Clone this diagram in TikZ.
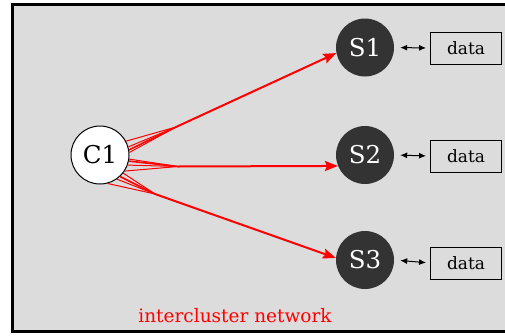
\documentclass[tikz,border=0pt]{standalone}
\usepackage{fontspec}
\setmainfont{DejaVu Serif}
\usetikzlibrary{arrows.meta}
\definecolor{panel}{gray}{0.863}
\definecolor{srv}{HTML}{333333}
\begin{document}
\begin{tikzpicture}[x=1pt,y=-1pt,
  txtbig/.style={font=\rmfamily\fontsize{24.5}{30}\selectfont},
  client/.style={txtbig,circle,draw=black,line width=1pt,fill=white,minimum size=58pt,inner sep=0pt},
  server/.style={txtbig,circle,fill=srv,minimum size=58pt,inner sep=0pt,text=white},
  store/.style={draw=black,line width=0.9pt,minimum width=71pt,minimum height=32pt,inner sep=0pt,font=\rmfamily\fontsize{17}{24}\selectfont},
  link/.style={red,line width=1pt},
  trunk/.style={red,line width=2pt,-{Stealth[length=13pt,width=10pt,inset=2pt]}},
  access/.style={black,line width=1pt,{Latex[length=7pt,width=6pt]}-{Latex[length=7pt,width=6pt]},shorten <=6pt,shorten >=4pt}]
  \useasboundingbox (0,0) rectangle (505,335);
  % framed panel
  \draw[line width=3pt,fill=panel] (12,4.5) rectangle (515,331.5);

  % nodes
  \node[client] (c1) at (100,155) {C1};
  \node[server] (s1) at (365,47.5) {S1};
  \node[server] (s2) at (365,155) {S2};
  \node[server] (s3) at (365,260) {S3};
  \node[store] (d1) at (466,48) {data};
  \node[store] (d2) at (466,156) {data};
  \node[store] (d3) at (466,263) {data};

  % bundling points of the intercluster links
  \coordinate (j1) at (176,127);
  \coordinate (j2) at (178,166.5);
  \coordinate (j3) at (155,194);

  % fan of links leaving C1
  \foreach \a in {28,16,5} \draw[link] (c1.\a) -- (j1);
  \draw[red,line width=1.6pt] (c1.10) -- (j1);
  \foreach \a in {-8,-20,-33} \draw[link] (c1.\a) -- (j2);
  \draw[red,line width=1.6pt] (c1.-12) -- (j2);
  \foreach \a in {-38,-55,-75} \draw[link] (c1.\a) -- (j3);
  \draw[red,line width=1.6pt] (c1.-47) -- (j3);

  % trunk links to the servers
  \draw[trunk] (j1) -- (s1.191);
  \draw[trunk] (j2) -- (s2.202.6);
  \draw[trunk] (j3) -- (s3.176.4);

  % server storage access
  \draw[access] (s1.east) -- (d1.west);
  \draw[access] (s2.east) -- (d2.west);
  \draw[access] (s3.east) -- (d3.west);

  \node[red,font=\rmfamily\fontsize{18.5}{24}\selectfont] (lbl) at (235,316) {intercluster network};
\end{tikzpicture}
\end{document}
